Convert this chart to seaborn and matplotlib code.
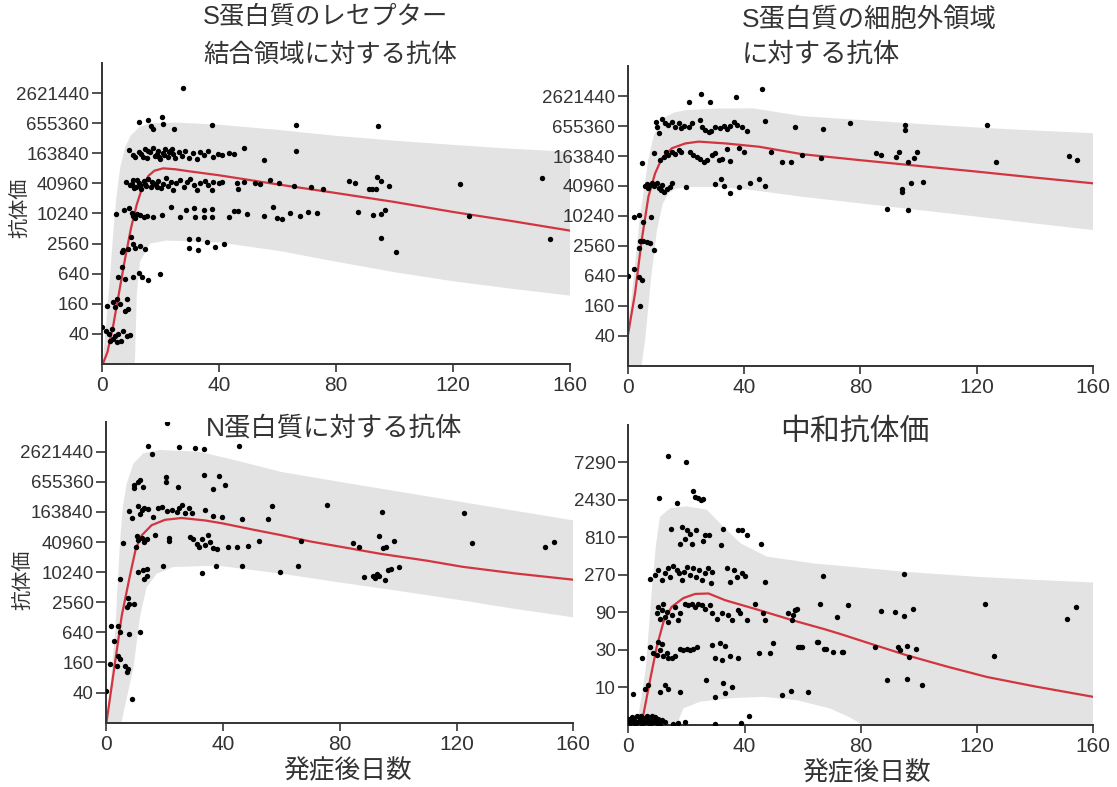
import matplotlib
matplotlib.use("Agg")
import matplotlib.pyplot as plt
import seaborn as sns

sns.set_style("ticks")
plt.rcParams["font.family"] = ["Liberation Sans", "Noto Sans CJK JP"]
JP = ["Liberation Sans", "Noto Sans CJK JP"]
NARROW = ["Liberation Sans Narrow", "Liberation Sans"]

X_TICKS = [0, 40, 80, 120, 160]
Y_TICKS_4 = [40, 160, 640, 2560, 10240, 40960, 163840, 655360, 2621440]
Y_TICKS_3 = [10, 30, 90, 270, 810, 2430, 7290]

# ---- panel 1: S protein receptor binding domain ----
rbd_day = [
    12.9, 15.8, 16.8, 17.7, 20.5, 20.8, 24.8, 37.7, 27.7, 66.5, 94.4, 66.5,
    9.5, 10.8, 12.9, 14.0, 14.8, 15.6, 16.6, 17.5, 18.3, 19.1, 20.0, 20.9, 21.7, 22.5,
    23.4, 24.3, 25.1, 26.3, 27.4, 28.5, 29.7, 31.2, 32.5, 33.7, 35.0, 36.5, 38.2, 39.6,
    41.1, 43.4, 45.1, 48.5, 55.4, 13.5, 16.0, 18.8, 21.2, 23.0, 11.5, 19.5, 24.0,
    8.3, 9.7, 10.8, 11.8, 12.6, 13.4, 14.3, 15.2, 16.0, 16.8, 17.7, 18.6, 19.4, 20.3,
    21.1, 22.0, 22.8, 23.7, 24.5, 25.5, 26.8, 28.0, 29.3, 30.3, 31.4, 32.5, 33.7, 35.4,
    36.5, 37.7, 38.2, 40.0, 41.1, 46.2, 46.5, 48.5, 52.5, 54.2, 57.6, 60.5, 65.6, 71.6,
    75.6, 84.5, 86.4, 91.3, 92.5, 93.6, 94.2, 95.3, 98.3, 122.5, 150.3, 10.2, 11.0, 12.0,
    14.8, 17.2, 19.0, 13.0,
    4.9, 7.6, 9.5, 10.3, 10.8, 11.4, 12.2, 13.1, 14.3, 15.4, 17.7, 20.5, 23.6, 26.6,
    28.9, 31.6, 32.0, 34.8, 34.8, 37.7, 37.7, 43.4, 45.1, 46.5, 49.7, 55.6, 58.6, 59.9,
    61.6, 64.5, 67.6, 70.6, 73.7, 87.6, 92.8, 95.6, 96.8, 125.4,
    9.9, 10.6, 9.1, 7.4, 6.8, 11.4, 13.1, 14.8, 29.7, 32.8, 29.7, 32.8, 36.0, 38.8,
    41.9, 95.6, 100.7, 153.2,
    6.8, 5.7, 8.0, 10.8, 12.6, 13.7, 16.0, 20.0,
    1.7, 3.8, 5.1, 4.6, 6.3, 8.6, 8.0, 9.1,
    0.0, 1.5, 2.6, 3.4, 4.0, 4.6, 5.7, 6.5, 7.4, 8.6, 9.7, 2.9, 5.1,
]
rbd_titer = [
    700000, 770000, 570000, 500000, 860000, 640000, 500000, 590000, 3300000, 590000, 570000, 183000,
    190000, 150000, 175000, 140000, 200000, 130000, 170000, 210000, 145000, 185000, 125000, 165000, 200000, 140000,
    180000, 155000, 130000, 170000, 145000, 185000, 130000, 165000, 125000, 175000, 150000, 185000, 140000, 160000,
    150000, 165000, 155000, 210000, 120000, 160000, 185000, 160000, 150000, 170000, 135000, 140000, 195000,
    43000, 38000, 47000, 35000, 42000, 31000, 45000, 37000, 50000, 34000, 42000, 38000, 46000, 33000,
    40000, 52000, 36000, 44000, 30000, 41000, 48000, 35000, 43000, 50000, 38000, 30000, 42000, 45000,
    38000, 30000, 43000, 41000, 44000, 41000, 31000, 44000, 42000, 40000, 47000, 42000, 36000, 34000,
    31000, 45000, 41000, 31000, 32000, 32000, 54000, 45000, 36000, 40000, 52000, 40000, 33000, 48000,
    40000, 44000, 35000, 38000,
    9900, 11800, 13000, 10600, 9300, 8500, 10200, 9500, 8900, 9200, 8900, 9500, 13500, 8900,
    11800, 13000, 8900, 11800, 8700, 12300, 8700, 8900, 11300, 11300, 10100, 9200, 13500, 8500,
    7800, 10500, 9100, 11000, 10240, 11200, 9700, 9900, 12200, 9100,
    3400, 2500, 2000, 1900, 1700, 2100, 2300, 1950, 3100, 3200, 2100, 1900, 2800, 2200,
    2500, 3300, 1700, 3200,
    870, 560, 500, 550, 660, 540, 470, 630,
    145, 170, 200, 135, 160, 200, 115, 125,
    55, 46, 40, 50, 31, 36, 40, 29, 46, 36, 38, 29, 27,
]
rbd_fit_day = [0, 2, 4, 6, 8, 10, 12, 14, 16, 18, 21, 25, 30, 40, 60, 80, 100, 120, 140, 160]
rbd_fit = [8.7, 17.4, 60.6, 279, 1280, 5120, 15500, 35700, 58000, 73300, 81900, 78600,
           71300, 59600, 39200, 26300, 17400, 11000, 7240, 4650]
rbd_hi_day = [0, 1.5, 3, 4, 5, 6.3, 8, 10, 13, 17, 25, 40, 61, 80, 100, 120, 140, 160]
rbd_hi = [6, 60, 700, 4500, 20480, 81920, 216300, 376300, 555000, 655360, 673700,
          611300, 476400, 366000, 293000, 241500, 201700, 175600]
rbd_lo_day = [0, 10, 11.4, 12, 13.1, 16.6, 22, 40, 61, 80, 100, 120, 140, 160]
rbd_lo = [0.625, 0.625, 13.2, 243, 1114, 2560, 2941, 2706, 1810, 1114, 686, 452, 320, 233]

# ---- panel 2: S protein ectodomain ----
ecto_day = [
    20.9, 25.2, 28.2, 37.2, 46.2, 47.1, 57.4,
    9.7, 10.0, 10.6, 11.7, 12.9, 14.0, 15.2, 16.3, 17.5, 18.4, 19.5, 20.9, 22.1, 24.9,
    25.7, 26.7, 27.8, 28.7, 29.9, 31.8, 33.0, 34.1, 35.3, 36.4, 37.6, 39.3, 41.0,
    9.1, 4.8, 11.1, 12.3, 13.1, 14.0, 15.2, 16.3, 17.5, 18.4, 21.5, 22.6, 23.8, 24.9,
    26.1, 27.2, 29.0, 30.1, 31.3, 32.4, 34.1, 35.3, 38.2, 39.9, 49.1, 53.1, 56.2, 60.0,
    66.3, 67.2, 76.3, 85.3, 87.2, 92.4, 93.3, 95.4, 95.4, 96.2, 98.5, 99.4, 97.3, 101.4,
    94.2, 94.2, 89.3, 96.2, 123.4, 126.6, 151.6, 154.6,
    6.0, 7.1, 7.7, 8.9, 10.0, 10.6, 11.5, 12.3, 13.4, 14.6, 15.2, 6.6, 8.3, 11.7,
    20.1, 30.1, 32.2, 33.2, 35.3, 38.2, 42.2, 45.1, 47.1,
    2.0, 3.9, 5.1, 8.0, 4.3, 3.7, 5.4, 6.6, 7.7, 8.9, 2.0, 3.7, 4.8, 4.3, 0.0,
]
ecto_titer = [
    2012000, 2889000, 1960000, 2549000, 3557000, 840800, 620000,
    798000, 637000, 468000, 889000, 765000, 684000, 798000, 637000, 744000, 585000, 655000, 637000, 765000, 865000,
    637000, 545000, 505000, 525000, 637000, 585000, 655000, 560000, 655000, 798000, 684000, 637000, 525000,
    185600, 120700, 136800, 155000, 198900, 170700, 198900, 180600, 216300, 198900, 198900, 170700, 155000, 140600,
    125800, 136800, 170700, 190900, 136800, 140600, 222300, 131200, 235000, 198900, 198900, 125800, 125800, 170700,
    146700, 570500, 742600, 190900, 170700, 155000, 198900, 683000, 547300, 125800, 150700, 198900, 47700, 49700,
    35100, 31460, 13900, 13510, 683000, 125800, 165500, 136800,
    40960, 36660, 42680, 40960, 46400, 36660, 34200, 31460, 35150, 38750, 46400, 45140, 46400, 42680,
    38750, 45140, 55600, 40960, 29370, 39850, 46400, 55600, 40960,
    9690, 10670, 7860, 9960, 3284, 2291, 3284, 3108, 2900, 2138, 868, 623, 535, 160, 640,
]
ecto_fit_day = [0, 2.5, 4.8, 7.1, 9.4, 11.7, 15.2, 19.8, 24.4, 33.6, 45.1, 60, 80, 100, 120, 140, 160]
ecto_fit = [40, 286, 3378, 24900, 73300, 146700, 235000, 293000, 318700, 293000, 251800,
            178100, 135000, 103700, 79700, 60400, 46400]
ecto_hi_day = [0, 1, 4, 7, 9, 12, 16, 20, 30, 43, 60, 80, 100, 120, 140, 160]
ecto_hi = [80, 160, 7760, 133100, 432400, 926800, 1222900, 1366600, 1462700, 1483000,
           1035600, 865100, 722300, 611300, 532300, 470000]
ecto_lo_day = [0, 4, 6, 8, 10, 12, 14, 16, 20, 30, 40, 60, 80, 100, 120, 140, 160]
ecto_lo = [2.5, 5, 34.8, 557, 5120, 17830, 28960, 35660, 39280, 39280, 35660, 24900,
           18330, 13510, 9960, 7240, 5340]

# ---- panel 3: N protein ----
np_day = [
    20.8, 14.5, 15.9, 25.0, 30.5, 33.7, 45.7,
    9.7, 10.8, 11.6, 12.8, 9.7, 20.5, 20.5, 24.8, 33.7, 36.8, 38.8, 40.8,
    7.9, 8.8, 11.1, 11.6, 12.2, 13.1, 14.5, 16.2, 17.7, 19.1, 20.8, 22.5, 24.2, 25.0,
    25.9, 27.1, 28.4, 29.3, 33.9, 36.8, 39.6, 46.5, 55.6, 56.7, 75.6, 94.6, 122.4,
    66.7, 84.5, 86.5, 93.5, 94.8, 95.9, 98.6, 125.4, 150.3, 153.4,
    5.9, 10.5, 11.1, 12.2, 13.1, 13.9, 10.2, 16.8, 21.6, 21.6, 28.8, 29.9, 31.1, 31.8,
    32.8, 33.9, 34.8, 35.6, 36.8, 37.9, 41.9, 44.7, 48.7, 52.4,
    65.6, 59.6, 88.4, 91.5, 92.7, 93.3, 92.1, 95.5, 96.5, 97.6, 100.3,
    11.1, 12.8, 13.9, 13.1, 13.9, 19.6, 32.8, 37.7, 46.5, 4.8,
    7.4, 7.9, 7.1, 9.7,
    1.7, 4.0, 4.8, 7.9, 11.6, 2.9,
    1.4, 4.0, 4.8, 3.7, 6.5, 7.4, 7.1,
    8.8, 0.0,
]
np_titer = [
    9800000, 3413000, 2412000, 3319000, 3183000, 2970000, 3413000,
    562300, 655360, 712400, 517700, 496700, 829700, 655360, 517700, 914200, 483000, 852600, 562300,
    168400, 124200, 216300, 150700, 178100, 196100, 190900, 129400, 196100, 207400, 168400, 178100, 163840, 196100,
    222300, 159400, 196100, 159400, 183000, 135000, 129400, 117500, 117500, 216300, 222300, 163840, 152900,
    42680, 39280, 32360, 53300, 31460, 32360, 42680, 39280, 32360, 40960,
    39280, 54000, 44500, 48900, 40960, 46400, 32360, 55600, 48900, 42100, 51900, 46400, 37690, 32360,
    46400, 35150, 57100, 40960, 31040, 30200, 32360, 32360, 34200, 42100,
    13900, 10240, 8090, 8440, 9550, 8790, 7860, 7240, 11130, 11930, 12960,
    10240, 11130, 11930, 7550, 8790, 13900, 9960, 13900, 13510, 7550,
    3064, 2355, 2022, 2355,
    845, 845, 640, 589, 640, 434,
    147, 217, 192, 134, 137, 118, 104,
    29.5, 43,
]
np_fit_day = [0, 3.1, 5.4, 8.2, 10.2, 12.2, 15.6, 20.2, 25.9, 33.9, 40, 50, 60, 70, 80,
              94, 110, 122, 140, 160]
np_fit = [8.7, 160, 1391, 8780, 30190, 55600, 89050, 114300, 124200, 111000, 96700, 73300,
          56300, 42100, 33270, 23860, 17350, 13140, 9680, 7240]
np_hi_day = [0, 1.5, 3.1, 4.0, 4.8, 5.8, 7.1, 9.4, 12.8, 18.5, 32, 45, 60, 80, 100, 120, 140, 160]
np_hi = [6, 60, 597, 5880, 40960, 216300, 611300, 1526000, 2446000, 2849000, 2621440,
         1729500, 1035600, 655360, 420400, 269900, 173200, 111000]
np_lo_day = [0, 4, 5.4, 9.4, 11.6, 13.9, 17.4, 23, 38, 60, 80, 100, 122, 140, 160]
np_lo = [0.625, 0.625, 10.9, 126, 1280, 5120, 9554, 12960, 13900, 9554, 6390, 4337,
         2783, 1887, 1280]

# ---- panel 4: neutralizing titre ----
nt_day = [
    13.6, 19.7, 10.7, 16.6, 22.4, 23.0, 23.9, 25.0, 25.8,
    14.7, 18.4, 20.1, 21.2, 23.2, 26.4, 27.8, 19.5, 17.8, 21.8, 25.8, 31.9, 32.7, 37.9,
    39.0, 40.7, 45.7,
    7.5, 9.2, 10.3, 11.5, 12.6, 13.6, 14.4, 15.5, 16.6, 17.4, 18.4, 19.3, 20.1, 21.2,
    22.4, 23.2, 24.3, 25.3, 26.4, 27.5, 28.5, 28.9, 33.9, 35.0, 36.2, 37.3, 39.0, 40.2, 47.1,
    9.8, 10.3, 10.9, 11.5, 12.1, 12.6, 13.2, 13.8, 14.9, 16.1, 17.2, 17.8, 19.5, 20.7,
    21.8, 23.0, 24.1, 25.3, 26.4, 28.1, 28.9, 30.4, 32.1, 34.4, 35.6, 37.9, 38.5, 40.7,
    43.6, 46.5, 47.1, 56.2, 56.8, 57.4,
    4.6, 7.5, 8.6, 9.8, 10.3, 10.9, 11.5, 12.1, 13.2, 13.8, 14.9, 16.1, 17.8, 18.9,
    20.1, 21.2, 22.4, 23.5, 28.7, 29.8, 31.6, 32.1, 33.3, 35.0, 37.9, 44.8, 48.8, 49.9,
    58.5, 65.2, 67.5,
    1.7, 5.7, 6.9, 10.9, 12.6, 13.8, 17.8, 26.6, 29.8, 32.7, 33.1, 35.8, 52.8, 55.9, 61.7,
    0.0, 0.6, 1.2, 1.7, 2.3, 2.9, 3.5, 4.0, 4.6, 5.2, 5.7, 6.3, 6.9, 7.5, 8.0, 8.6,
    9.2, 9.8, 10.3, 10.9, 11.5, 12.6, 15.5, 17.2, 19.5, 29.8, 38.8,
    1.0, 2.0, 3.0, 4.4, 5.0, 6.0, 7.2, 8.3, 9.5, 41.6,
    66.9, 65.8, 71.7, 75.7, 64.8, 68.0, 70.6, 73.5, 59.1, 59.7, 55.1, 57.4, 58.0,
    74.0, 94.7, 86.9, 91.8, 94.9, 97.9, 84.9, 92.9, 93.5, 95.8, 99.0, 96.7, 88.9, 95.8,
    101.0, 122.8, 125.9, 150.9, 154.1,
]
nt_titer = [
    8890, 7290, 2570, 2230, 3130, 2670, 2570, 2430, 2480,
    1030, 1100, 1000, 910, 1000, 860, 860, 780, 660, 670, 740, 650, 1030, 1010,
    1000, 880, 660,
    243, 270, 309, 233, 286, 329, 258, 352, 309, 286, 233, 298, 346, 270,
    329, 258, 309, 233, 286, 329, 212, 298, 329, 221, 309, 258, 288, 261, 221,
    88, 106, 75, 97, 117, 80, 92, 68, 84, 106, 72, 88, 116, 112,
    116, 106, 116, 112, 101, 112, 88, 75, 88, 84, 72, 97, 88, 72,
    116, 88, 72, 72, 84, 97,
    23.8, 32.3, 27.6, 25.8, 38.2, 30, 35.9, 25.4, 27.6, 23.9, 23.9, 25.4, 31.3, 30,
    30.7, 30, 31.3, 32.3, 34.6, 23.9, 36.3, 22.6, 33.5, 25.2, 23.9, 27.6, 27.6, 36.8,
    33.1, 38.2, 30.7,
    8.2, 9.5, 10.7, 8.8, 10.7, 9.5, 8.8, 12.6, 7.6, 11.3, 8.6, 10.2, 8.0, 9.1, 8.8,
    4.02, 3.56, 4.24, 3.76, 3.48, 4.29, 3.64, 3.93, 3.41, 4.15, 3.64, 4.29, 3.84, 3.48, 4.02, 3.64,
    4.24, 3.56, 3.93, 3.41, 3.84, 3.64, 3.48, 3.56, 3.64, 3.41, 3.56,
    3.9, 4.1, 3.6, 4.4, 3.7, 4.0, 3.5, 4.3, 3.7, 4.3,
    261, 117, 78, 112, 38, 30.7, 28.5, 28.5, 32.6, 32.6, 88, 97, 101,
    27.9, 278, 95, 91, 81, 101, 32.3, 32.6, 29.9, 33.5, 30.7, 24.5, 12.6, 13.0,
    10.7, 116, 25.4, 74.6, 105,
]
nt_fit_day = [4, 4.6, 7.5, 9.8, 12.1, 14.9, 18.9, 23.0, 27.6, 33.3, 44.8, 56.2, 67.7,
              72.9, 84, 95.8, 110, 123.4, 140, 160]
nt_fit = [2.4, 3.48, 12.5, 33.1, 68.4, 106, 137, 155, 157, 129, 97, 72.2, 54.9,
          48.0, 35.4, 25.7, 18.3, 13.6, 10.3, 7.6]
nt_hi_day = [0, 3, 6, 8, 9.5, 10.9, 14.4, 20.1, 27, 32.7, 38.5, 47.6, 63.7, 76.3, 95.8,
             120, 140, 160]
nt_hi = [2.7, 3.33, 17.3, 156, 650, 1480, 1908, 2016, 1826, 1110, 687, 463, 379, 344,
         295, 256, 234, 217]
nt_lo_day = [0, 16, 16.7, 18.9, 24.7, 35, 46.5, 58, 69.4, 76.3, 85, 100, 160]
nt_lo = [1.11, 1.11, 3.33, 5.4, 6.6, 7.3, 7.6, 6.9, 5.4, 4.15, 2.7, 1.11, 1.11]

BAND = "#e3e3e3"
RED = "#d2353f"
INK = "#333333"


def draw_panel(rect, day, titer, fit_day, fit, hi_day, hi, lo_day, lo, yticks, ylim):
    ax = fig.add_axes(rect)
    ax.set_yscale("log")
    ax.fill(list(hi_day) + lo_day[::-1], list(hi) + lo[::-1], color=BAND, lw=0, zorder=1)
    sns.lineplot(x=fit_day, y=fit, ax=ax, color=RED, lw=1.6, estimator=None, sort=False, zorder=2)
    sns.scatterplot(x=day, y=titer, ax=ax, color="black", s=15, linewidth=0, zorder=3)
    ax.set_xlim(0, 160)
    ax.set_ylim(*ylim)
    ax.set_yticks(yticks)
    ax.set_yticklabels([str(t) for t in yticks], family=NARROW, fontsize=13.5, color=INK)
    ax.minorticks_off()
    ax.set_xticks(X_TICKS)
    ax.set_xticklabels([str(t) for t in X_TICKS], fontsize=15, color=INK)
    ax.tick_params(direction="out", length=7, width=1.2, color=INK, pad=2)
    ax.tick_params(axis="x", length=6, pad=3)
    sns.despine(ax=ax)
    for s in ("left", "bottom"):
        ax.spines[s].set_linewidth(1.4)
        ax.spines[s].set_color(INK)
    ax.set_xlabel("")
    ax.set_ylabel("")
    return ax


fig = plt.figure(figsize=(11.17, 7.87), dpi=100)

draw_panel([0.0910, 0.5375, 0.4193, 0.3825], rbd_day, rbd_titer, rbd_fit_day, rbd_fit,
           rbd_hi_day, rbd_hi, rbd_lo_day, rbd_lo, Y_TICKS_4, (10, 10485760))
draw_panel([0.5620, 0.5350, 0.4166, 0.3811], ecto_day, ecto_titer, ecto_fit_day, ecto_fit,
           ecto_hi_day, ecto_hi, ecto_lo_day, ecto_lo, Y_TICKS_4, (10, 10485760))
draw_panel([0.0949, 0.0817, 0.4184, 0.3825], np_day, np_titer, np_fit_day, np_fit,
           np_hi_day, np_hi, np_lo_day, np_lo, Y_TICKS_4, (10, 10485760))
draw_panel([0.5625, 0.0788, 0.4163, 0.3812], nt_day, nt_titer, nt_fit_day, nt_fit,
           nt_hi_day, nt_hi, nt_lo_day, nt_lo, Y_TICKS_3, (10 / 3, 21870))

title_kw = dict(family=JP, color=INK, ha="left", va="center")
fig.text(203 / 1117, 1 - 17 / 787, "S蛋白質のレセプター", fontsize=18.3, **title_kw)
fig.text(203 / 1117, 1 - 55 / 787, "結合領域に対する抗体", fontsize=18.3, **title_kw)
fig.text(742 / 1117, 1 - 20 / 787, "S蛋白質の細胞外領域", fontsize=19, **title_kw)
fig.text(742 / 1117, 1 - 55 / 787, "に対する抗体", fontsize=19, **title_kw)
fig.text(206 / 1117, 1 - 428 / 787, "N蛋白質に対する抗体", fontsize=19, **title_kw)
fig.text(780 / 1117, 1 - 432 / 787, "中和抗体価", fontsize=21.5, **title_kw)

lab_kw = dict(family=JP, color=INK, ha="center", va="center")
fig.text(21 / 1117, 1 - 208 / 787, "抗体価", rotation=90, fontsize=14.5, **lab_kw)
fig.text(24 / 1117, 1 - 580 / 787, "抗体価", rotation=90, fontsize=14.5, **lab_kw)
fig.text(348 / 1117, 1 - 771 / 787, "発症後日数", fontsize=18.5, **lab_kw)
fig.text(867 / 1117, 1 - 773 / 787, "発症後日数", fontsize=18.5, **lab_kw)

fig.savefig("out.png", dpi=100)
